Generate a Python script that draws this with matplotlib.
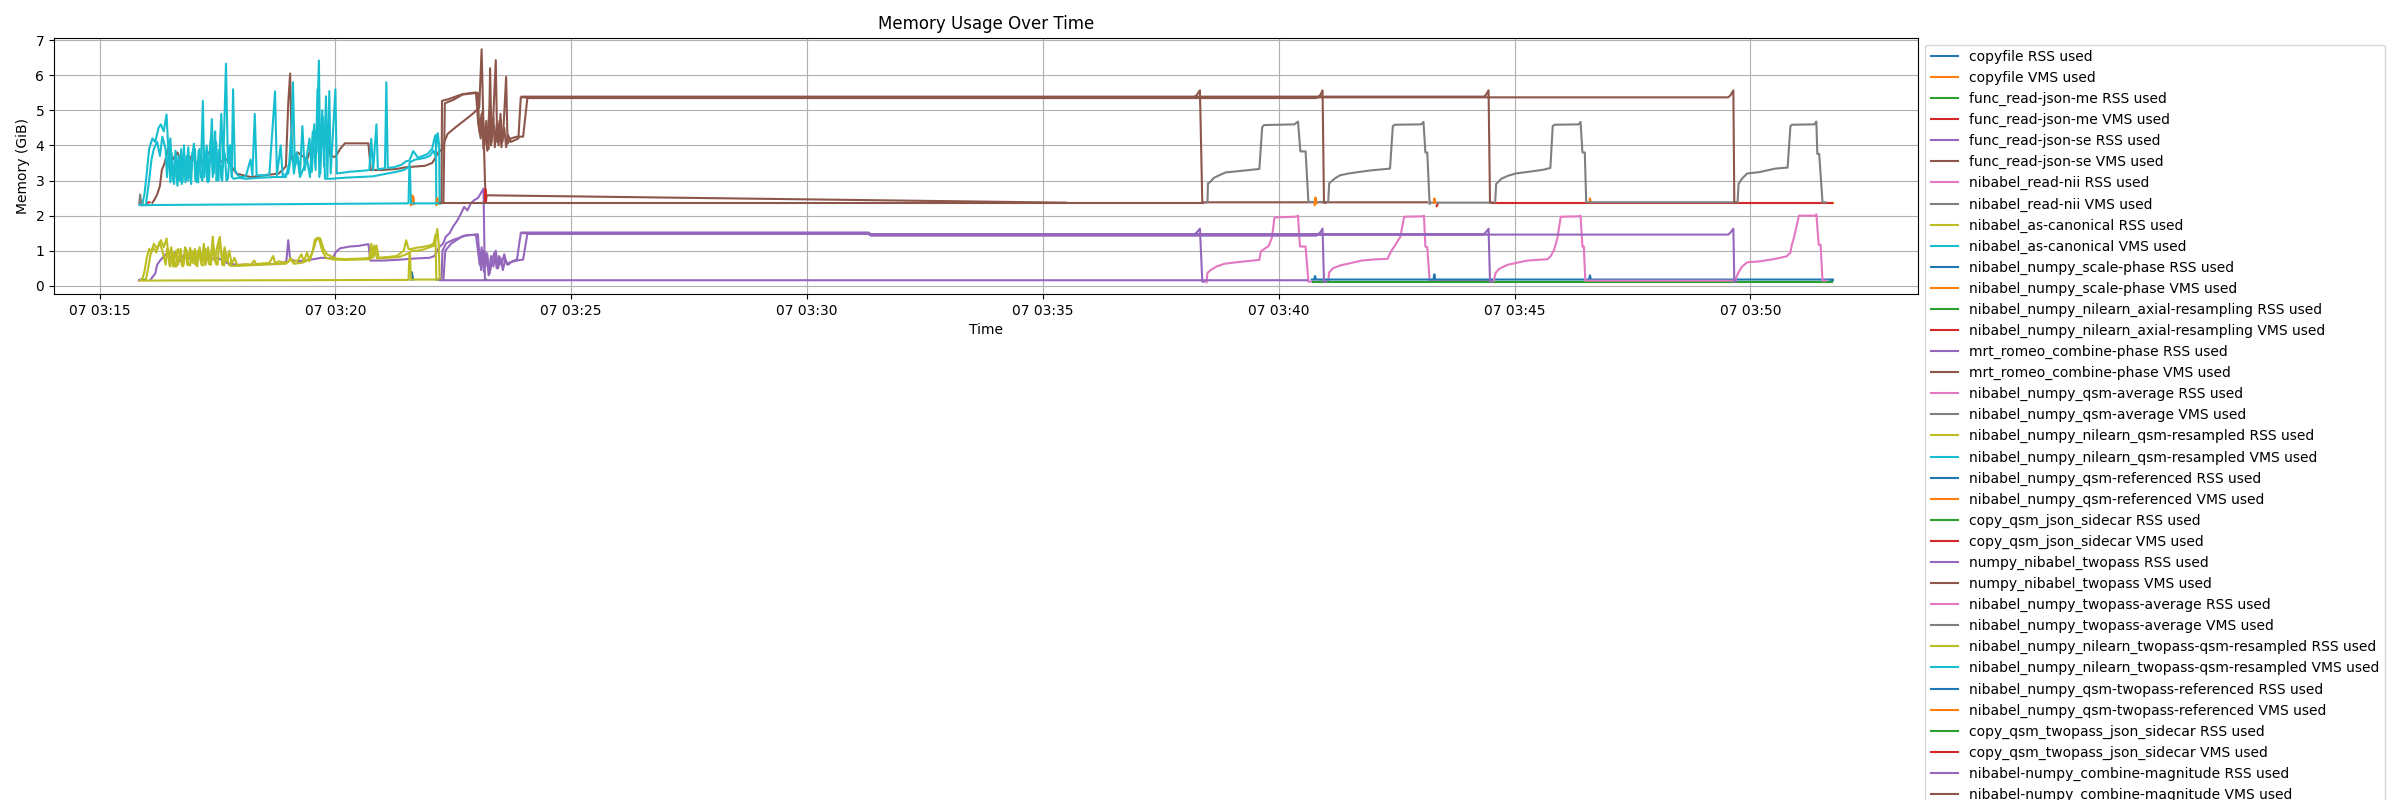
import numpy as np
import pandas as pd
import matplotlib
matplotlib.use('Agg')
import matplotlib.pyplot as plt
import matplotlib.dates as mdates

# run date, all times below are minutes after 03:00
start = pd.Timestamp('2024-06-07 03:00:00')

steps = ['copyfile', 'func_read-json-me', 'func_read-json-se', 'nibabel_read-nii',
         'nibabel_as-canonical', 'nibabel_numpy_scale-phase',
         'nibabel_numpy_nilearn_axial-resampling', 'mrt_romeo_combine-phase',
         'nibabel_numpy_qsm-average', 'nibabel_numpy_nilearn_qsm-resampled',
         'nibabel_numpy_qsm-referenced', 'copy_qsm_json_sidecar',
         'numpy_nibabel_twopass', 'nibabel_numpy_twopass-average',
         'nibabel_numpy_nilearn_twopass-qsm-resampled',
         'nibabel_numpy_qsm-twopass-referenced', 'copy_qsm_twopass_json_sidecar',
         'nibabel-numpy_combine-magnitude']

# (minute, GiB) samples, (None, None) = gap between runs
copyfile_rss = [(15.84, 0.17), (15.88, 0.18)]
copyfile_vms = [(15.88, 2.30), (15.90, 2.44), (15.93, 2.30)]
json_me_rss = [(15.90, 0.17), (15.96, 0.18)]
json_me_vms = [(16.02, 2.37), (16.06, 2.38)]

json_se_rss = [(16.08, 0.17), (16.12, 0.25), (16.18, 0.35), (16.22, 0.60), (16.30, 0.75),
               (16.40, 0.90), (16.50, 0.80), (16.60, 0.95), (16.70, 0.70), (16.80, 0.90),
               (16.95, 0.75), (17.10, 0.85), (17.30, 0.75), (17.50, 0.80), (17.70, 0.65),
               (17.90, 0.60), (18.20, 0.60), (18.50, 0.62), (18.80, 0.62), (18.96, 0.70),
               (19.00, 1.30), (19.04, 0.75), (19.20, 0.70), (19.50, 0.75), (19.70, 0.80),
               (19.95, 0.78), (20.00, 0.95), (20.10, 1.07), (20.30, 1.12), (20.50, 1.14),
               (20.70, 1.19), (20.74, 0.72), (21.00, 0.72), (21.30, 0.74), (21.50, 0.76),
               (21.70, 0.78), (22.00, 0.80), (22.10, 0.85), (22.20, 1.10), (22.28, 1.20),
               (22.34, 1.40), (22.42, 1.50), (22.50, 1.70), (22.58, 1.85), (22.66, 2.05),
               (22.73, 2.25), (22.80, 2.15), (22.87, 2.35), (22.95, 2.45), (23.02, 2.50),
               (23.08, 2.63), (23.14, 2.77), (23.17, 0.17), (23.20, 0.17)]
json_se_vms = [(16.12, 2.37), (16.16, 2.45), (16.22, 2.60), (16.28, 2.85), (16.32, 3.30),
               (16.38, 3.50), (16.45, 3.90), (16.55, 3.60), (16.65, 3.80), (16.80, 3.30),
               (16.95, 3.70), (17.10, 3.40), (17.30, 3.80), (17.50, 3.50), (17.70, 3.60),
               (17.90, 3.20), (18.20, 3.10), (18.50, 3.15), (18.80, 3.20), (18.95, 3.40),
               (19.00, 5.20), (19.04, 6.05), (19.08, 3.60), (19.20, 3.80), (19.40, 3.60),
               (19.60, 4.40), (19.75, 4.45), (19.90, 3.70), (20.00, 3.67), (20.10, 3.90),
               (20.20, 4.06), (20.70, 4.06), (20.75, 3.30), (21.00, 3.30), (21.30, 3.33),
               (21.50, 3.38), (21.70, 3.40), (21.90, 3.42), (22.05, 3.50), (22.10, 3.60),
               (22.18, 3.80), (22.27, 3.90), (22.32, 4.14), (22.38, 4.33), (22.55, 4.52),
               (22.77, 4.75), (22.91, 4.90), (23.05, 5.08), (23.10, 6.74), (23.13, 5.06),
               (23.17, 3.00), (23.19, 2.40), (23.21, 2.58), (35.50, 2.37)]

read_nii_rss = [(15.83, 0.15), (15.86, 0.17)]
read_nii_vms = [(15.84, 2.33), (15.86, 2.60), (15.88, 2.33)]

as_canonical_rss = [(15.90, 0.17), (15.95, 0.40), (16.00, 0.80), (16.05, 1.05), (16.10, 0.95),
                    (16.15, 1.20), (16.22, 1.05), (16.30, 1.30), (16.36, 1.10), (16.42, 1.35),
                    (16.47, 0.80), (16.52, 1.10), (16.56, 0.55), (16.62, 1.00), (16.66, 0.60),
                    (16.72, 1.05), (16.76, 0.55), (16.82, 0.95), (16.86, 0.60), (16.92, 1.08),
                    (16.97, 0.65), (17.02, 1.05), (17.07, 0.55), (17.12, 1.10), (17.17, 0.70),
                    (17.21, 1.20), (17.25, 0.60), (17.30, 1.10), (17.35, 0.65), (17.40, 1.40),
                    (17.44, 0.70), (17.50, 1.15), (17.55, 1.40), (17.60, 0.60), (17.65, 1.10),
                    (17.70, 0.70), (17.75, 1.00), (17.80, 0.62), (17.86, 0.80), (17.92, 0.58),
                    (18.00, 0.60), (18.10, 0.62), (18.20, 0.60), (18.28, 0.72), (18.32, 0.62),
                    (18.45, 0.64), (18.60, 0.65), (18.68, 0.85), (18.72, 0.65), (18.80, 0.70),
                    (18.90, 0.66), (19.00, 0.68), (19.05, 0.80), (19.10, 0.68), (19.20, 0.72),
                    (19.28, 0.90), (19.33, 0.70), (19.40, 0.95), (19.45, 0.70), (19.52, 1.00),
                    (19.56, 1.30), (19.62, 1.37), (19.68, 1.35), (19.75, 1.05), (19.82, 0.90),
                    (19.90, 0.85), (20.00, 0.78), (20.20, 0.76), (20.40, 0.77), (20.60, 0.78),
                    (20.72, 0.80), (20.76, 1.20), (20.80, 0.80), (20.87, 1.15), (20.92, 0.80),
                    (21.10, 0.82), (21.30, 0.85), (21.45, 1.00), (21.50, 1.30), (21.55, 1.05),
                    (21.60, 1.05), (21.70, 1.08), (21.80, 1.10), (21.90, 1.12), (22.00, 1.15),
                    (22.08, 1.20), (22.12, 1.45), (22.14, 0.18), (22.20, 0.18)]
as_canonical_vms = [(15.90, 2.30), (15.95, 2.60), (16.00, 3.20), (16.05, 3.90), (16.12, 4.20),
                    (16.18, 4.10), (16.25, 4.50), (16.30, 4.60), (16.36, 4.40), (16.42, 4.88),
                    (16.46, 3.80), (16.50, 4.20), (16.55, 3.00), (16.60, 3.70), (16.65, 2.85),
                    (16.70, 3.60), (16.74, 2.90), (16.78, 3.70), (16.83, 3.00), (16.88, 3.95),
                    (16.92, 3.10), (16.97, 3.80), (17.02, 3.90), (17.06, 2.95), (17.10, 3.85),
                    (17.15, 3.40), (17.19, 5.27), (17.22, 3.10), (17.27, 4.00), (17.32, 3.00),
                    (17.38, 4.75), (17.42, 3.20), (17.47, 4.10), (17.52, 3.00), (17.58, 4.90),
                    (17.62, 3.40), (17.68, 6.33), (17.72, 3.50), (17.76, 4.00), (17.80, 3.10),
                    (17.83, 5.60), (17.87, 3.30), (17.93, 3.15), (18.00, 3.10), (18.10, 3.12),
                    (18.20, 3.60), (18.24, 3.15), (18.29, 4.90), (18.33, 3.15), (18.50, 3.15),
                    (18.60, 3.18), (18.72, 5.54), (18.76, 3.15), (18.84, 4.00), (18.88, 3.15),
                    (19.00, 3.20), (19.05, 3.60), (19.10, 5.80), (19.14, 3.40), (19.20, 3.70),
                    (19.25, 3.20), (19.30, 4.55), (19.35, 3.30), (19.45, 4.20), (19.50, 3.25),
                    (19.55, 4.60), (19.60, 3.80), (19.65, 6.42), (19.68, 3.20), (19.72, 5.00),
                    (19.76, 3.40), (19.80, 5.40), (19.83, 3.10), (19.87, 5.55), (19.90, 3.20),
                    (19.95, 4.40), (20.00, 5.60), (20.03, 3.20), (20.30, 3.25), (20.60, 3.28),
                    (20.72, 3.30), (20.76, 4.19), (20.80, 3.30), (20.87, 4.60), (20.90, 3.32),
                    (21.05, 3.35), (21.08, 5.80), (21.11, 3.36), (21.25, 3.38), (21.40, 3.45),
                    (21.50, 3.55), (21.57, 3.57), (21.65, 3.84), (21.75, 3.65), (21.85, 3.70),
                    (21.95, 3.75), (22.05, 3.90), (22.10, 4.20), (22.13, 4.30), (22.14, 2.35),
                    (22.20, 2.35)]

scale_phase_rss = [(21.60, 0.18), (21.62, 0.39), (21.65, 0.18), (None, None),
                   (22.15, 0.18), (22.22, 0.18)]
scale_phase_vms = [(21.60, 2.30), (21.62, 2.58), (21.64, 2.33), (21.65, 2.55), (21.67, 2.33),
                   (None, None), (22.14, 2.30), (22.16, 2.50), (22.18, 2.35)]

axial_rss = [(23.17, 0.17), (23.19, 0.18)]
axial_vms = [(23.17, 2.40), (23.18, 2.75), (23.19, 2.42), (None, None), (43.35, 2.27), (43.37, 2.33)]

romeo_rss = [(22.22, 0.17), (22.25, 0.17), (22.27, 1.00), (22.35, 1.22), (22.50, 1.31),
             (22.69, 1.40), (22.80, 1.45), (22.98, 1.45), (23.02, 1.03), (23.06, 0.60),
             (23.10, 1.10), (23.15, 0.40), (23.20, 0.95), (23.25, 0.30), (23.30, 0.85),
             (23.35, 0.55), (23.40, 1.00), (23.45, 0.50), (23.50, 0.80), (23.55, 0.45),
             (23.60, 0.75), (23.66, 0.60), (23.75, 0.70), (23.85, 0.75), (23.93, 1.50),
             (31.30, 1.50), (31.35, 1.45), (38.20, 1.45), (38.26, 1.52), (38.33, 1.63),
             (38.38, 0.12), (38.42, 0.12)]
romeo_vms = [(22.22, 2.37), (22.25, 2.37), (22.26, 5.27), (22.40, 5.32), (22.69, 5.46),
             (22.98, 5.51), (23.03, 4.60), (23.08, 4.20), (23.12, 5.00), (23.16, 4.00),
             (23.20, 4.70), (23.25, 3.90), (23.28, 6.20), (23.31, 4.10), (23.35, 4.80),
             (23.38, 3.95), (23.42, 4.60), (23.46, 4.00), (23.50, 4.90), (23.54, 4.10),
             (23.58, 4.50), (23.62, 3.95), (23.66, 4.30), (23.72, 4.10), (23.80, 4.15),
             (23.88, 4.20), (23.93, 5.37), (38.20, 5.37), (38.26, 5.43), (38.33, 5.57),
             (38.38, 2.38), (43.15, 2.38)]

qsm_avg_rss = [(38.47, 0.10), (38.49, 0.37), (38.56, 0.45), (38.68, 0.55), (38.85, 0.63),
               (39.09, 0.67), (39.59, 0.74), (39.62, 0.98), (39.79, 1.14), (39.86, 1.39),
               (39.91, 1.95), (40.36, 1.97), (40.41, 2.00), (40.45, 1.12), (40.57, 1.12),
               (40.63, 0.12), (41.05, 0.12), (41.07, 0.38), (41.15, 0.50), (41.30, 0.58),
               (41.50, 0.64), (41.75, 0.72), (42.00, 0.75), (42.31, 0.77), (42.38, 0.98),
               (42.45, 1.12), (42.58, 1.40), (42.66, 1.97), (43.05, 1.98), (43.08, 2.00),
               (43.11, 1.12), (43.15, 1.10), (43.20, 0.15), (44.55, 0.15)]
qsm_avg_vms = [(38.47, 2.37), (38.49, 2.39), (38.50, 2.92), (38.54, 2.95), (38.63, 3.08),
               (38.74, 3.15), (38.87, 3.23), (39.09, 3.26), (39.59, 3.33), (39.65, 4.52),
               (39.69, 4.58), (40.33, 4.60), (40.41, 4.68), (40.46, 3.83), (40.57, 3.83),
               (40.63, 2.39), (41.05, 2.39), (41.07, 2.92), (41.19, 3.06), (41.30, 3.15),
               (41.48, 3.20), (41.68, 3.24), (41.96, 3.29), (42.36, 3.34), (42.42, 4.55),
               (42.46, 4.59), (43.02, 4.60), (43.07, 4.67), (43.11, 3.80), (43.15, 3.80),
               (43.20, 2.33), (43.22, 2.37), (44.55, 2.37)]

qsm_resampled_rss = [(15.98, 0.17), (16.03, 0.50), (16.08, 0.90), (16.13, 1.10), (16.20, 0.95),
                     (16.27, 1.25), (16.33, 1.00), (16.40, 0.60), (16.43, 1.05), (16.45, 0.95),
                     (16.48, 0.60), (16.50, 0.55), (16.53, 1.00), (16.57, 0.90), (16.60, 0.55),
                     (16.63, 0.55), (16.66, 1.05), (16.70, 0.95), (16.74, 0.60), (16.78, 0.58),
                     (16.81, 1.10), (16.85, 1.00), (16.88, 0.60), (16.92, 0.58), (16.95, 1.00),
                     (16.98, 0.95), (17.02, 0.62), (17.05, 0.60), (17.08, 1.00), (17.12, 0.90),
                     (17.16, 0.60), (17.20, 0.58), (17.24, 1.05), (17.28, 1.00), (17.32, 0.62),
                     (17.36, 0.60), (17.40, 1.10), (17.43, 1.05), (17.47, 0.62), (17.50, 0.60),
                     (17.54, 1.30), (17.58, 1.00), (17.61, 0.60), (17.64, 0.58), (17.67, 0.95),
                     (17.70, 0.85), (17.74, 0.60), (17.78, 0.57), (17.90, 0.57), (18.10, 0.58),
                     (18.40, 0.60), (18.70, 0.62), (18.95, 0.63), (19.05, 0.75), (19.12, 0.63),
                     (19.30, 0.66), (19.45, 0.75), (19.55, 1.10), (19.60, 1.35), (19.66, 1.30),
                     (19.72, 1.00), (19.80, 0.80), (19.95, 0.75), (20.20, 0.74), (20.50, 0.75),
                     (20.75, 0.76), (20.82, 1.15), (20.88, 0.78), (21.10, 0.80), (21.35, 0.82),
                     (21.50, 0.90), (21.58, 0.95), (21.60, 0.18), (21.65, 0.18), (22.20, 0.18)]
qsm_resampled_vms = [(15.98, 2.30), (16.05, 3.00), (16.10, 3.60), (16.15, 3.90), (16.22, 4.10),
                     (16.28, 3.70), (16.33, 4.25), (16.40, 3.90), (16.43, 3.10), (16.47, 3.95),
                     (16.50, 2.95), (16.52, 3.80), (16.55, 3.20), (16.58, 2.90), (16.61, 3.85),
                     (16.64, 3.05), (16.67, 3.70), (16.70, 3.00), (16.73, 3.90), (16.76, 2.95),
                     (16.79, 4.00), (16.82, 2.95), (16.85, 3.70), (16.88, 3.00), (16.91, 3.60),
                     (16.94, 2.90), (16.97, 3.75), (17.00, 4.05), (17.03, 3.00), (17.06, 3.50),
                     (17.09, 2.95), (17.12, 3.90), (17.15, 3.10), (17.18, 3.00), (17.21, 3.85),
                     (17.25, 3.70), (17.28, 3.00), (17.30, 2.95), (17.33, 3.80), (17.36, 4.20),
                     (17.40, 3.10), (17.43, 3.95), (17.45, 4.40), (17.48, 3.00), (17.50, 3.20),
                     (17.53, 3.85), (17.55, 3.90), (17.58, 3.05), (17.60, 3.00), (17.63, 3.90),
                     (17.66, 3.70), (17.69, 3.00), (17.72, 3.05), (17.75, 3.60), (17.78, 4.00),
                     (17.81, 3.10), (17.84, 3.05), (17.95, 3.08), (18.10, 3.05), (18.40, 3.08),
                     (18.70, 3.10), (18.95, 3.10), (19.02, 3.50), (19.06, 4.30), (19.12, 3.20),
                     (19.18, 3.80), (19.25, 3.10), (19.40, 3.60), (19.46, 3.10), (19.52, 4.40),
                     (19.58, 3.30), (19.62, 5.60), (19.66, 3.10), (19.74, 4.80), (19.78, 3.05),
                     (19.90, 3.05), (20.20, 3.08), (20.50, 3.10), (20.80, 3.12), (21.10, 3.20),
                     (21.30, 3.25), (21.45, 3.30), (21.58, 3.40), (21.60, 2.35), (21.65, 2.35),
                     (22.20, 2.35)]

qsm_ref_rss = [(40.70, 0.18), (40.75, 0.18), (40.77, 0.28), (40.79, 0.18), (43.28, 0.18),
               (43.30, 0.33), (43.32, 0.18), (46.58, 0.18), (46.60, 0.30), (46.62, 0.18),
               (51.74, 0.18)]
qsm_ref_vms = [(40.76, 2.30), (40.78, 2.52), (40.80, 2.35), (None, None),
               (43.29, 2.37), (43.30, 2.49), (43.32, 2.37), (None, None),
               (46.59, 2.37), (46.60, 2.49), (46.62, 2.37)]

sidecar_rss = [(40.72, 0.12), (51.73, 0.12)]
sidecar_vms = [(44.55, 2.37), (51.72, 2.37)]

twopass_rss = [(22.29, 0.17), (22.33, 1.00), (22.45, 1.20), (22.70, 1.42), (23.02, 1.47),
               (23.05, 0.90), (23.09, 0.45), (23.13, 1.00), (23.18, 0.55), (23.22, 0.90),
               (23.27, 0.35), (23.32, 0.70), (23.37, 0.95), (23.42, 0.50), (23.47, 0.85),
               (23.52, 0.60), (23.58, 0.90), (23.63, 0.62), (23.72, 0.68), (23.85, 0.72),
               (23.98, 0.75), (24.07, 1.48), (31.30, 1.48), (31.35, 1.43), (40.80, 1.43),
               (40.88, 1.52), (40.93, 1.63), (40.96, 0.12), (41.00, 0.12)]
twopass_vms = [(22.29, 2.37), (22.32, 5.20), (22.50, 5.30), (22.70, 5.45), (23.02, 5.50),
               (23.05, 4.40), (23.10, 4.90), (23.14, 3.90), (23.18, 4.50), (23.22, 3.85),
               (23.26, 5.00), (23.30, 4.00), (23.34, 4.60), (23.40, 6.43), (23.43, 4.10),
               (23.48, 4.70), (23.52, 3.95), (23.56, 4.40), (23.62, 5.95), (23.65, 4.05),
               (23.72, 4.20), (23.85, 4.25), (23.98, 4.25), (24.07, 5.35), (40.80, 5.35),
               (40.88, 5.43), (40.93, 5.57), (40.96, 2.37), (41.00, 2.37)]

twopass_avg_rss = [(44.56, 0.15), (44.60, 0.37), (44.67, 0.48), (44.85, 0.60), (45.06, 0.66),
                   (45.27, 0.72), (45.70, 0.76), (45.77, 0.85), (45.84, 1.03), (45.91, 1.36),
                   (45.98, 1.97), (46.37, 1.98), (46.40, 2.00), (46.44, 1.12), (46.47, 1.12),
                   (46.50, 0.15), (49.68, 0.15), (49.72, 0.30), (49.76, 0.41), (49.82, 0.54),
                   (49.93, 0.67), (50.21, 0.70), (50.49, 0.76), (50.77, 0.84), (50.85, 0.95),
                   (50.88, 1.17), (50.93, 1.40), (51.03, 2.00), (51.38, 2.00), (51.40, 2.04),
                   (51.45, 1.17), (51.49, 1.17), (51.53, 0.15), (51.60, 0.15)]
twopass_avg_vms = [(44.59, 2.38), (44.61, 2.90), (44.72, 3.05), (44.85, 3.13), (45.02, 3.20),
                   (45.25, 3.24), (45.62, 3.31), (45.76, 3.36), (45.81, 4.55), (45.85, 4.59),
                   (46.36, 4.60), (46.40, 4.67), (46.44, 3.80), (46.49, 3.80), (46.52, 2.38),
                   (49.73, 2.38), (49.75, 2.90), (49.82, 3.05), (49.93, 3.20), (50.19, 3.24),
                   (50.53, 3.34), (50.79, 3.37), (50.85, 4.55), (50.88, 4.59), (51.36, 4.60),
                   (51.40, 4.68), (51.42, 3.76), (51.46, 3.76), (51.53, 2.38), (51.60, 2.38)]

twopass_resampled_rss = [(15.85, 0.15), (21.55, 0.17), (21.57, 0.95), (21.62, 1.00), (21.75, 1.00),
                         (21.90, 1.05), (22.00, 1.10), (22.10, 1.15), (22.16, 1.62), (22.19, 1.20),
                         (22.21, 0.18), (22.25, 0.18)]
twopass_resampled_vms = [(15.85, 2.30), (21.55, 2.35), (21.57, 3.50), (21.62, 3.55), (21.70, 3.60),
                         (21.80, 3.62), (21.90, 3.65), (22.00, 3.70), (22.08, 3.85), (22.12, 3.70),
                         (22.17, 4.35), (22.20, 4.00), (22.21, 2.35), (22.25, 2.35)]

twopass_ref_rss = [(51.70, 0.18), (51.76, 0.18)]
twopass_ref_vms = [(51.70, 2.37), (51.76, 2.37)]
twopass_sidecar_rss = [(51.72, 0.12), (51.74, 0.12)]
twopass_sidecar_vms = [(51.72, 2.37), (51.74, 2.37)]

combine_mag_rss = [(22.22, 0.16), (40.60, 0.16), (None, None),
                   (23.95, 1.52), (31.30, 1.52), (31.35, 1.47), (44.35, 1.47), (44.40, 1.54),
                   (44.45, 1.63), (44.48, 0.12), (44.52, 0.12), (None, None),
                   (24.05, 1.50), (31.30, 1.50), (31.35, 1.46), (49.53, 1.46), (49.58, 1.52),
                   (49.64, 1.63), (49.66, 0.12), (49.70, 0.12)]
combine_mag_vms = [(22.22, 2.36), (38.40, 2.36), (None, None),
                   (23.95, 5.39), (44.35, 5.39), (44.40, 5.45), (44.45, 5.57), (44.48, 2.37),
                   (44.52, 2.37), (None, None),
                   (24.05, 5.37), (49.53, 5.37), (49.58, 5.43), (49.64, 5.57), (49.66, 2.37),
                   (49.70, 2.37)]

rss_data = [copyfile_rss, json_me_rss, json_se_rss, read_nii_rss, as_canonical_rss,
            scale_phase_rss, axial_rss, romeo_rss, qsm_avg_rss, qsm_resampled_rss,
            qsm_ref_rss, sidecar_rss, twopass_rss, twopass_avg_rss, twopass_resampled_rss,
            twopass_ref_rss, twopass_sidecar_rss, combine_mag_rss]
vms_data = [copyfile_vms, json_me_vms, json_se_vms, read_nii_vms, as_canonical_vms,
            scale_phase_vms, axial_vms, romeo_vms, qsm_avg_vms, qsm_resampled_vms,
            qsm_ref_vms, sidecar_vms, twopass_vms, twopass_avg_vms, twopass_resampled_vms,
            twopass_ref_vms, twopass_sidecar_vms, combine_mag_vms]


def to_xy(points):
    # minutes -> matplotlib date numbers, None -> nan to break the line
    t = np.array([np.nan if p[0] is None else p[0] for p in points], dtype=float)
    v = np.array([np.nan if p[1] is None else p[1] for p in points], dtype=float)
    x = mdates.date2num(start.to_pydatetime()) + t / 1440.0
    return x, v


fig, ax = plt.subplots(figsize=(24, 8), dpi=100)
fig.subplots_adjust(left=0.0225, right=0.7992, bottom=0.6325, top=0.953)

for name, rss, vms in zip(steps, rss_data, vms_data):
    x, v = to_xy(rss)
    ax.plot(x, v, label=name + ' RSS used')
    x, v = to_xy(vms)
    ax.plot(x, v, label=name + ' VMS used')

ax.xaxis_date()
ax.xaxis.set_major_locator(mdates.MinuteLocator(byminute=range(0, 60, 5)))
ax.xaxis.set_major_formatter(mdates.DateFormatter('%d %H:%M'))

ax.set_title('Memory Usage Over Time')
ax.set_xlabel('Time')
ax.set_ylabel('Memory (GiB)')
ax.grid(True)
ax.legend(loc='upper left', bbox_to_anchor=(1, 1))

fig.savefig('out.png')
